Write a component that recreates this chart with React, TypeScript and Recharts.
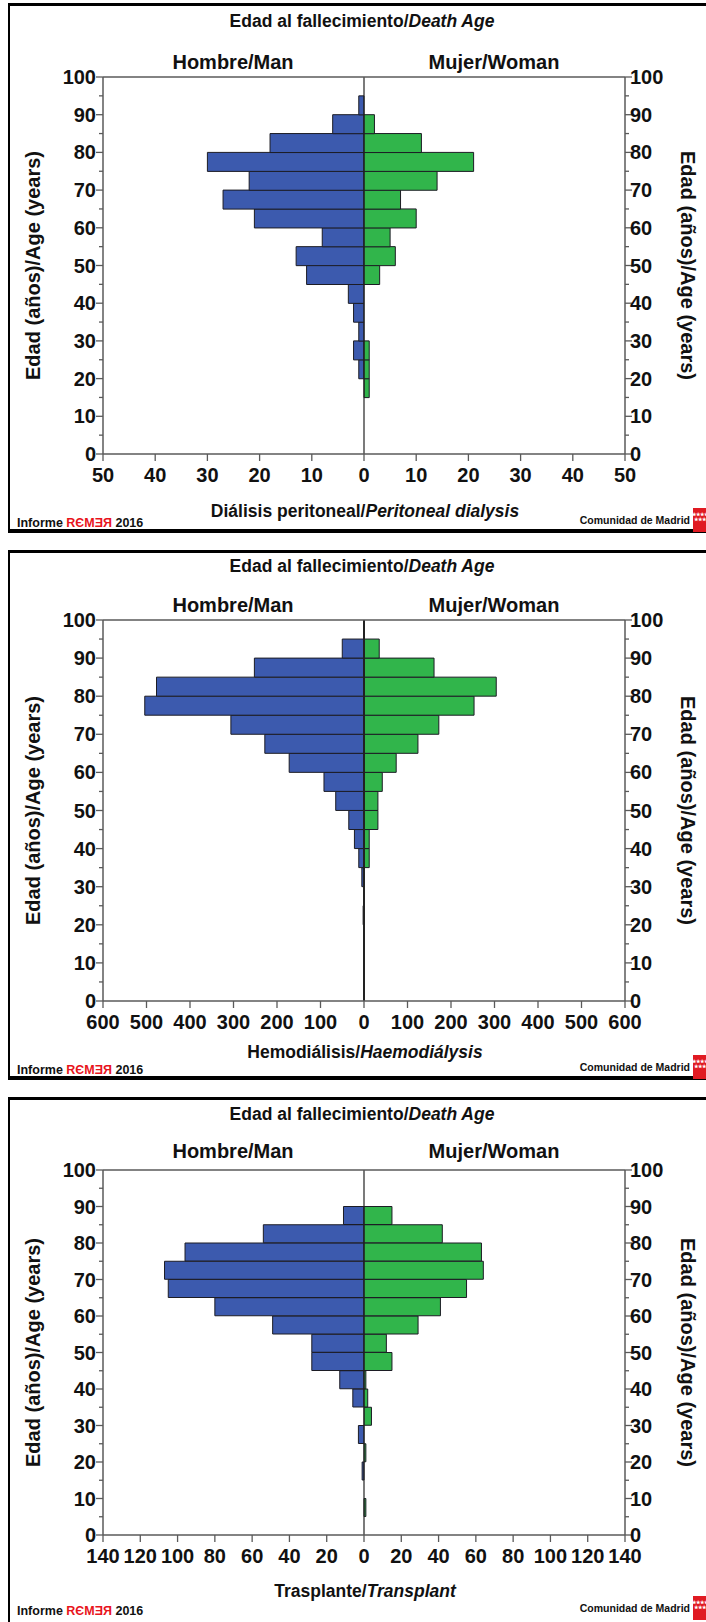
import { Bar, BarChart, ReferenceLine, XAxis, YAxis } from "recharts";

const ageBins = [
  "0-4", "5-9", "10-14", "15-19", "20-24", "25-29", "30-34", "35-39", "40-44", "45-49",
  "50-54", "55-59", "60-64", "65-69", "70-74", "75-79", "80-84", "85-89", "90-94", "95-99",
];

// Diálisis peritoneal
const pdMen = [0, 0, 0, 0, 1, 2, 1, 2, 3, 11, 13, 8, 21, 27, 22, 30, 18, 6, 1, 0];
const pdWomen = [0, 0, 0, 1, 1, 1, 0, 0, 0, 3, 6, 5, 10, 7, 14, 21, 11, 2, 0, 0];
const pdTicks = [-50, -40, -30, -20, -10, 0, 10, 20, 30, 40, 50];

// Hemodiálisis
const hdMen = [0, 0, 0, 0, 2, 0, 5, 12, 22, 35, 65, 92, 172, 228, 306, 504, 477, 252, 50, 0];
const hdWomen = [0, 0, 0, 0, 0, 0, 0, 12, 12, 32, 32, 42, 74, 124, 172, 253, 304, 161, 35, 0];
const hdTicks = [-600, -500, -400, -300, -200, -100, 0, 100, 200, 300, 400, 500, 600];

// Trasplante
const txMen = [0, 0, 0, 1, 0, 3, 0, 6, 13, 28, 28, 49, 80, 105, 107, 96, 54, 11, 0, 0];
const txWomen = [0, 1, 0, 0, 1, 0, 4, 2, 1, 15, 12, 29, 41, 55, 64, 63, 42, 15, 0, 0];
const txTicks = [-140, -120, -100, -80, -60, -40, -20, 0, 20, 40, 60, 80, 100, 120, 140];

const W = 706;
const PANEL_H = 530;
const PLOT_L = 103;
const PLOT_R = 625;
const FONT = '"Liberation Sans", Arial, Helvetica, sans-serif';
const BLUE = "#3c5aae";
const GREEN = "#31b54b";
const EDGE = "#1c1c24";
const AXIS = "#5a5a5a";

// category ticks sit in the middle of each 5-year band; we mark the band edges
function AgeTick(props: any) {
  const { y, payload, side, band } = props;
  const i = ageBins.indexOf(payload.value);
  const edges: [number, number][] = [[(i + 1) * 5, y - band / 2]];
  if (i === 0) edges.push([0, y + band / 2]);
  return (
    <g>
      {edges.map(([v, ty]) => {
        const major = v % 10 === 0;
        const len = major ? 7 : 4;
        const x1 = side === "left" ? PLOT_L - len : PLOT_R;
        const x2 = side === "left" ? PLOT_L : PLOT_R + len;
        return (
          <g key={v}>
            <line x1={x1} x2={x2} y1={ty} y2={ty} stroke={AXIS} strokeWidth={1.3} />
            {major && (
              <text
                x={side === "left" ? PLOT_L - 7 : PLOT_R + 5}
                y={ty + 7}
                textAnchor={side === "left" ? "end" : "start"}
                fontFamily={FONT}
                fontWeight="bold"
                fontSize={20}
                fill="#111"
              >
                {v}
              </text>
            )}
          </g>
        );
      })}
    </g>
  );
}

function BottomTick(props: any) {
  const { x, payload, axisY } = props;
  return (
    <g>
      <line x1={x} x2={x} y1={axisY} y2={axisY + 7} stroke={AXIS} strokeWidth={1.3} />
      <text x={x} y={axisY + 28} textAnchor="middle" fontFamily={FONT} fontWeight="bold" fontSize={20} fill="#111">
        {Math.abs(payload.value)}
      </text>
    </g>
  );
}

interface PanelProps {
  top: number;
  men: number[];
  women: number[];
  xTicks: number[];
  plotTop: number;
  plotBottom: number;
  titleY: number;
  headY: number;
  sub: string;
  subItalic: string;
  subY: number;
  infoY: number;
  comY: number;
  zeroWidth: number;
}

function Panel(p: PanelProps) {
  const { top, men, women, xTicks, plotTop, plotBottom } = p;
  const data = ageBins.map((bin, i) => ({ bin, men: -men[i], women: women[i] }));
  const lim = xTicks[xTicks.length - 1];
  const band = (plotBottom - plotTop) / ageBins.length;
  const midY = (plotTop + plotBottom) / 2;
  return (
    <>
      <div
        style={{
          position: "absolute",
          left: 8,
          top,
          width: 740,
          height: PANEL_H,
          boxSizing: "border-box",
          borderStyle: "solid",
          borderColor: "#000",
          borderWidth: "3px 2px 4px 2px",
          background: "#fff",
        }}
      />
      <div style={{ position: "absolute", left: 0, top }}>
        <BarChart
          width={W}
          height={PANEL_H}
          data={data}
          layout="vertical"
          stackOffset="sign"
          barCategoryGap={0}
          margin={{ top: plotTop - 1, right: W - PLOT_R - 60, bottom: PANEL_H - plotBottom - 30, left: PLOT_L - 60 }}
        >
          <XAxis
            type="number"
            domain={[-lim, lim]}
            ticks={xTicks}
            interval={0}
            allowDataOverflow
            height={30}
            tickLine={false}
            tick={(tp: any) => <BottomTick {...tp} axisY={plotBottom} />}
            axisLine={{ stroke: AXIS, strokeWidth: 1.5 }}
          />
          <XAxis
            xAxisId="top"
            orientation="top"
            type="number"
            domain={[-lim, lim]}
            allowDataOverflow
            height={1}
            tick={false}
            tickLine={false}
            axisLine={{ stroke: AXIS, strokeWidth: 1.5 }}
          />
          <YAxis
            yAxisId="cat"
            type="category"
            dataKey="bin"
            reversed
            interval={0}
            width={60}
            tickLine={false}
            tick={(tp: any) => <AgeTick {...tp} side="left" band={band} />}
            axisLine={{ stroke: AXIS, strokeWidth: 1.5 }}
          />
          <YAxis
            yAxisId="catR"
            orientation="right"
            type="category"
            dataKey="bin"
            reversed
            interval={0}
            width={60}
            tickLine={false}
            tick={(tp: any) => <AgeTick {...tp} side="right" band={band} />}
            axisLine={{ stroke: AXIS, strokeWidth: 1.5 }}
          />
          <Bar yAxisId="cat" dataKey="men" stackId="a" fill={BLUE} stroke={EDGE} strokeWidth={1} isAnimationActive={false} />
          <Bar yAxisId="cat" dataKey="women" stackId="a" fill={GREEN} stroke={EDGE} strokeWidth={1} isAnimationActive={false} />
          <ReferenceLine yAxisId="cat" x={0} stroke="#222" strokeWidth={p.zeroWidth} />
        </BarChart>
      </div>
      <svg
        width={W}
        height={PANEL_H}
        style={{ position: "absolute", left: 0, top, pointerEvents: "none" }}
        fontFamily={FONT}
        fontWeight="bold"
        fill="#111"
      >
        <text x={362} y={p.titleY} textAnchor="middle" fontSize={17.5}>
          Edad al fallecimiento/<tspan fontStyle="italic">Death Age</tspan>
        </text>
        <text x={233} y={p.headY} textAnchor="middle" fontSize={20}>
          Hombre/Man
        </text>
        <text x={494} y={p.headY} textAnchor="middle" fontSize={20}>
          Mujer/Woman
        </text>
        <text transform={`translate(40,${midY}) rotate(-90)`} textAnchor="middle" fontSize={20}>
          Edad (años)/Age (years)
        </text>
        <text transform={`translate(681,${midY}) rotate(90)`} textAnchor="middle" fontSize={20}>
          Edad (años)/Age (years)
        </text>
        <text x={365} y={p.subY} textAnchor="middle" fontSize={17.5}>
          {p.sub}
          <tspan fontStyle="italic">{p.subItalic}</tspan>
        </text>
        <text x={17} y={p.infoY} fontSize={12.5}>
          Informe <tspan fill="#e8141c">RЄMƎЯ</tspan> 2016
        </text>
        <text x={690} y={p.comY} textAnchor="end" fontSize={10.5}>
          Comunidad de Madrid
        </text>
        <rect x={693} y={p.comY - 16} width={13} height={24} fill="#e01a22" />
        <text x={699.5} y={p.comY - 8} textAnchor="middle" fontSize={4.5} fill="#fff">
          ★★★★
        </text>
        <text x={699.5} y={p.comY - 3} textAnchor="middle" fontSize={4.5} fill="#fff">
          ★★★
        </text>
      </svg>
    </>
  );
}

export default function App() {
  return (
    <div style={{ position: "absolute", left: 0, top: 0, width: W, height: 1622, overflow: "hidden", background: "#fff" }}>
      <Panel
        top={3}
        men={pdMen}
        women={pdWomen}
        xTicks={pdTicks}
        plotTop={74}
        plotBottom={451}
        titleY={24}
        headY={66}
        sub="Diálisis peritoneal/"
        subItalic="Peritoneal dialysis"
        subY={514}
        infoY={524}
        comY={521}
        zeroWidth={1.2}
      />
      <Panel
        top={550}
        men={hdMen}
        women={hdWomen}
        xTicks={hdTicks}
        plotTop={70}
        plotBottom={451}
        titleY={22}
        headY={62}
        sub="Hemodiálisis/"
        subItalic="Haemodiálysis"
        subY={508}
        infoY={524}
        comY={521}
        zeroWidth={2}
      />
      <Panel
        top={1097}
        men={txMen}
        women={txWomen}
        xTicks={txTicks}
        plotTop={73}
        plotBottom={438}
        titleY={23}
        headY={61}
        sub="Trasplante/"
        subItalic="Transplant"
        subY={500}
        infoY={518}
        comY={515}
        zeroWidth={1.2}
      />
    </div>
  );
}
